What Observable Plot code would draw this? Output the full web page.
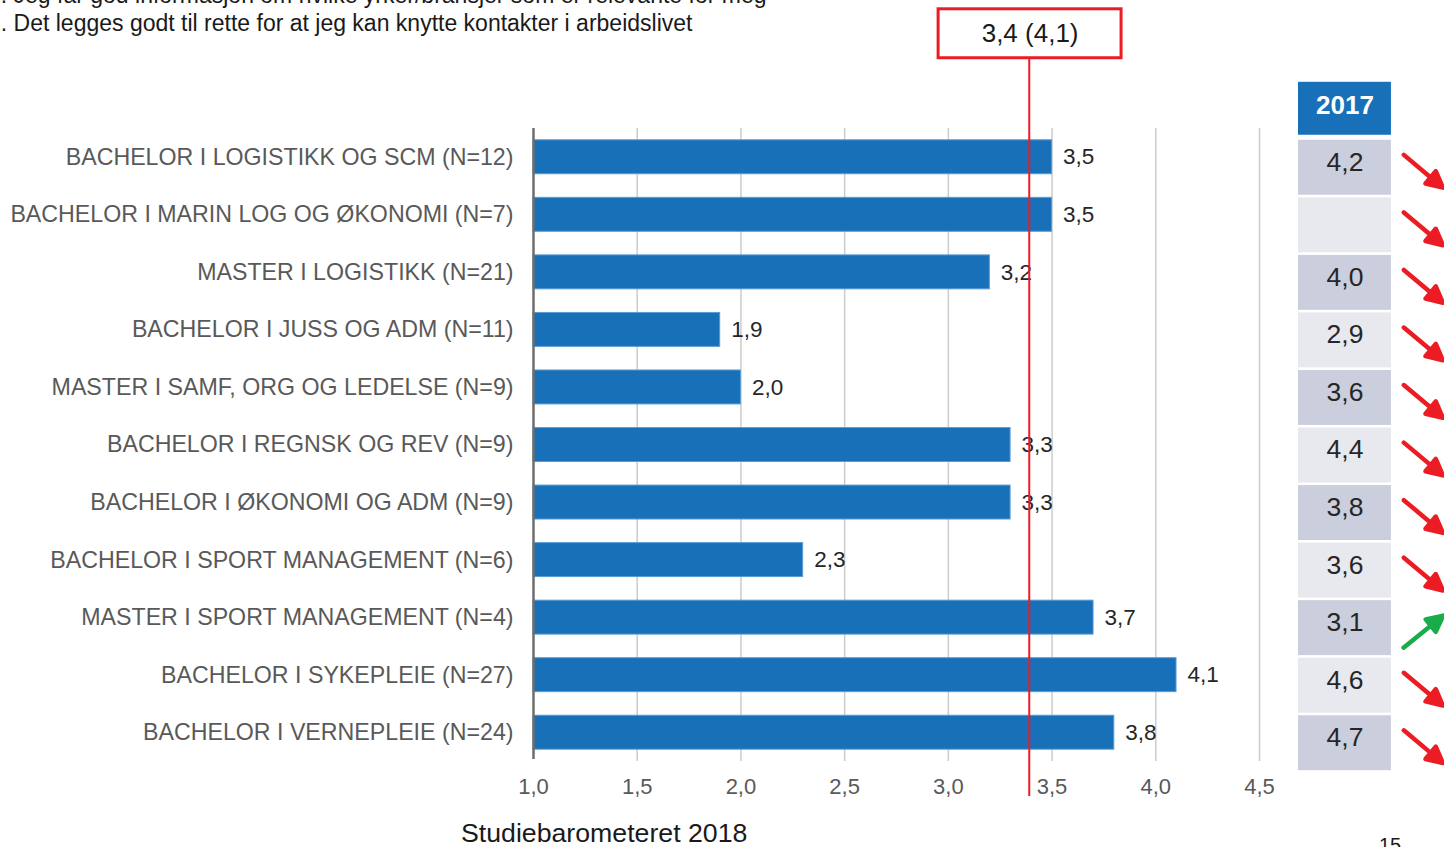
<!DOCTYPE html>
<html>
<head>
<meta charset="utf-8">
<script src="https://cdn.jsdelivr.net/npm/d3@7"></script>
<script src="https://cdn.jsdelivr.net/npm/@observablehq/plot@0.6"></script>
<style>
  body { margin: 0; background: #fff; overflow: hidden; }
  #wrap { position: relative; width: 1444px; height: 847px; overflow: hidden; font-family: "Liberation Sans", Arial, sans-serif; }
  #wrap svg { position: absolute; left: 0; top: 0; }
  .note { position: absolute; white-space: nowrap; color: #1a1a1a; }
</style>
</head>
<body>
<div id="wrap">
  <div class="note" id="q1" style="left:-12px; top:-18px; font-size:23px;">1. Jeg får god informasjon om hvilke yrker/bransjer som er relevante for meg</div>
  <div class="note" id="q2" style="left:-12px; top:10px; font-size:23px;">2. Det legges godt til rette for at jeg kan knytte kontakter i arbeidslivet</div>
  <div class="note" id="src" style="left:461px; top:818px; font-size:26.7px;">Studiebarometeret 2018</div>
  <div class="note" id="pg" style="left:1379px; top:834px; font-size:20px;">15</div>
</div>
<script>
const programs = [
  "BACHELOR I LOGISTIKK OG SCM (N=12)",
  "BACHELOR I MARIN LOG OG ØKONOMI (N=7)",
  "MASTER I LOGISTIKK (N=21)",
  "BACHELOR I JUSS OG ADM (N=11)",
  "MASTER I SAMF, ORG OG LEDELSE (N=9)",
  "BACHELOR I REGNSK OG REV (N=9)",
  "BACHELOR I ØKONOMI OG ADM (N=9)",
  "BACHELOR I SPORT MANAGEMENT (N=6)",
  "MASTER I SPORT MANAGEMENT (N=4)",
  "BACHELOR I SYKEPLEIE (N=27)",
  "BACHELOR I VERNEPLEIE (N=24)"
];
const scores2018 = [3.5, 3.5, 3.2, 1.9, 2.0, 3.3, 3.3, 2.3, 3.7, 4.1, 3.8];
const scores2017 = [4.2, null, 4.0, 2.9, 3.6, 4.4, 3.8, 3.6, 3.1, 4.6, 4.7];
const trend = ["down", "down", "down", "down", "down", "down", "down", "down", "up", "down", "down"];
const xTicks = [1.0, 1.5, 2.0, 2.5, 3.0, 3.5, 4.0, 4.5];
const meanLine = 3.39;
const meanLabel = "3,4 (4,1)";
const headerLabel = "2017";

const fmt = d => d == null ? "" : d.toFixed(1).replace(".", ",");
const rows = programs.map((p, i) => ({
  program: p, v18: scores2018[i], v17: scores2017[i], trend: trend[i], shade: i % 2 === 0
}));

// horizontal placement of the side column, expressed in x-scale units
const colX1 = 4.688, colX2 = 5.136;
const arrowX = 5.29;

const blue = "#1770b8";
const red = "#ec1c24";
const green = "#1aab4b";

// arrow with a filled head, pointing "up" before rotation
const arrowShape = {
  draw(context, l) {
    const hl = 16, hw = 8;
    context.moveTo(0, 0);
    context.lineTo(0, -l + hl - 2);
    context.moveTo(-hw, -l + hl);
    context.lineTo(0, -l);
    context.lineTo(hw, -l + hl);
    context.closePath();
  }
};

const plot = Plot.plot({
  width: 1444,
  height: 847,
  marginLeft: 533,
  marginRight: 185,
  marginTop: 128,
  marginBottom: 86,
  style: { fontFamily: "Liberation Sans, Arial, sans-serif", background: "transparent", overflow: "visible" },
  x: { domain: [1, 4.5], clamp: false },
  y: { domain: programs, paddingInner: 0.41, paddingOuter: 0.205, align: 0.5, round: false },
  marks: [
    Plot.gridX(xTicks.slice(1), { stroke: "#cccccc", strokeOpacity: 1, strokeWidth: 1.5 }),
    Plot.axisX(xTicks, { tickSize: 0, tickPadding: 0, dy: 17, fontSize: 22, fill: "#595959", tickFormat: fmt, label: null }),
    Plot.axisY({ tickSize: 0, tickPadding: 20, fontSize: 23.2, fill: "#595959", label: null }),
    Plot.barX(rows, { x1: 1, x2: "v18", y: "program", fill: blue, stroke: "#5b9bd5", strokeWidth: 1 }),
    Plot.ruleX([1], { stroke: "#6e6e6e", strokeWidth: 2.5, insetBottom: 2 }),
    Plot.text(rows, { x: "v18", y: "program", text: d => fmt(d.v18), textAnchor: "start", dx: 11, fontSize: 22.5, fill: "#262626" }),
    // mean line and its label box
    Plot.ruleX([meanLine], { stroke: red, strokeWidth: 2, insetTop: -70, insetBottom: -35 }),
    Plot.barX([programs[0]], { x1: 2.953, x2: 3.835, y: d => d, dy: -123.5, insetTop: -7.5, insetBottom: -7.5, fill: "white", stroke: red, strokeWidth: 3 }),
    Plot.text([programs[0]], { x: 3.394, y: d => d, dy: -123.5, text: () => meanLabel, fontSize: 26, fill: "#1a1a1a" }),
    // 2017 column
    Plot.barX([programs[0]], { x1: colX1, x2: colX2, y: d => d, dy: -48.5, insetTop: -9.5, insetBottom: -9.5, fill: blue }),
    Plot.text([programs[0]], { x: (colX1 + colX2) / 2, y: d => d, dy: -52, text: () => headerLabel, fontSize: 26, fontWeight: "bold", fill: "white" }),
    Plot.barX(rows, { x1: colX1, x2: colX2, y: "program", dy: 10.5, insetTop: -10.5, insetBottom: -10.5, fill: d => d.shade ? "#cbcedc" : "#e8e9ef" }),
    Plot.text(rows, { x: (colX1 + colX2) / 2, y: "program", dy: 5, text: d => fmt(d.v17), fontSize: 26.5, fill: "#262626" }),
    Plot.vector(rows, {
      x: arrowX, y: "program", dy: 14, length: 51, anchor: "middle", shape: arrowShape,
      rotate: d => d.trend === "up" ? 51 : 130,
      stroke: d => d.trend === "up" ? green : red,
      fill: d => d.trend === "up" ? green : red,
      strokeWidth: 4.5
    })
  ]
});
document.getElementById("wrap").prepend(plot);
</script>
</body>
</html>
